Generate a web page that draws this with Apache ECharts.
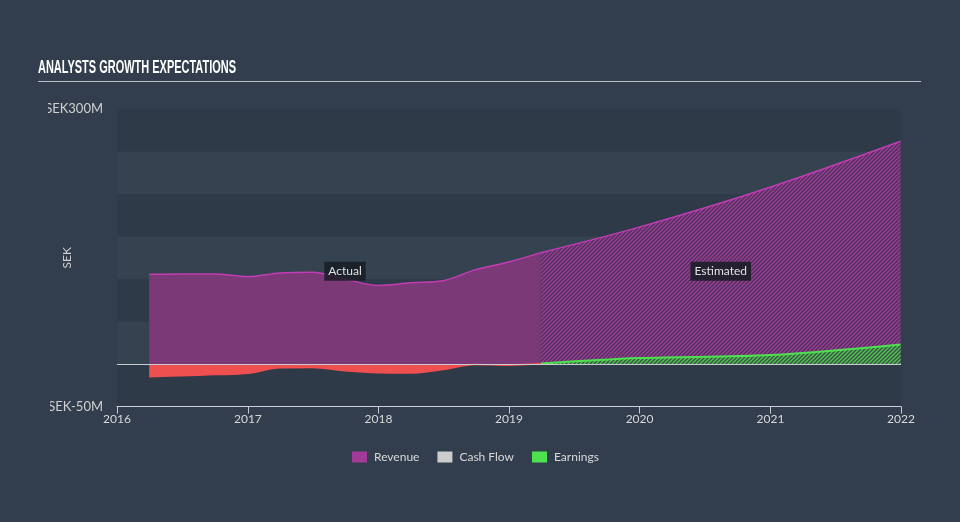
<!DOCTYPE html>
<html>
<head>
<meta charset="utf-8">
<script src="https://cdn.jsdelivr.net/npm/echarts@6/dist/echarts.min.js"></script>
<style>
html,body{margin:0;padding:0;background:#323e4d;}
#chart{width:960px;height:522px;}
</style>
</head>
<body>
<div id="chart"></div>
<script>
// ---- data ----
const actualDates = ['2016-03-31','2016-06-30','2016-09-30','2016-12-31','2017-03-31','2017-06-30','2017-09-30','2017-12-31','2018-03-31','2018-06-30','2018-09-30','2018-12-31','2019-03-31'];
const revenueActual = [105.5, 106, 106, 102.7, 107, 108, 100, 92.5, 95.6, 98, 111, 120, 131];
const earningsActual = [-15, -13.7, -12.5, -11, -4.5, -4, -8, -10.3, -10.6, -6.5, -0.5, -1.5, 0.5];
const estimateDates = ['2019-03-31','2019-12-31','2020-12-31','2021-12-31'];
const revenueEstimate = [131, 161, 208, 262];
const earningsEstimate = [0.5, 7, 10.5, 23];
const cashFlow = [];
const xRange = ['2016-01-01', '2022-01-01'];
const yTickLabels = {'300': 'SEK300M', '-50': 'SEK-50M'};
const title = 'ANALYSTS GROWTH EXPECTATIONS';
const labelValue = 109;

function pairs(d, v){ return d.map((x,i)=>[x, v[i]]); }
function midDate(d){ const a = +new Date(d[0]), b = +new Date(d[d.length-1]); return (a+b)/2; }

function hatch(bg, fg, lw){
  const c = document.createElement('canvas');
  c.width = 4; c.height = 4;
  const g = c.getContext('2d');
  g.fillStyle = bg; g.fillRect(0,0,4,4);
  g.strokeStyle = fg; g.lineWidth = lw;
  g.beginPath();
  g.moveTo(-1,5); g.lineTo(5,-1);
  g.moveTo(-1,1); g.lineTo(1,-1);
  g.moveTo(3,5); g.lineTo(5,3);
  g.stroke();
  return {image: c, repeat: 'repeat'};
}

// measure title to fit condensed width
const mc = document.createElement('canvas').getContext('2d');
mc.font = 'bold 19px "Liberation Sans"';
const tw = mc.measureText(title).width;
const titleScale = 198 / tw;

const chart = echarts.init(document.getElementById('chart'), null, {renderer: 'canvas'});
const labelBox = {
  show: true, color: '#e0e0e0', fontSize: 12, fontFamily: 'Lato, sans-serif',
  backgroundColor: 'rgba(24,28,36,0.85)', padding: [4, 4, 3, 4], borderRadius: 0
};
chart.setOption({
  backgroundColor: '#323e4d',
  animation: false,
  graphic: [
    {type: 'text', left: 38, top: 58, z: 100, scaleX: titleScale, originX: 0,
     style: {text: title, fill: '#ffffff', font: 'bold 19px "Liberation Sans"'}},
    {type: 'line', z: 100, shape: {x1: 38, y1: 81.5, x2: 921, y2: 81.5}, style: {stroke: '#b9bec5', lineWidth: 1.2}},
    {type: 'rect', z: 100, shape: {x: 0, y: 94, width: 48, height: 24}, style: {fill: '#323e4d'}},
    {type: 'rect', z: 100, shape: {x: 0, y: 390, width: 50, height: 24}, style: {fill: '#323e4d'}}
  ],
  grid: {left: 117, right: 59, top: 109, bottom: 115.5},
  legend: {
    left: 347, top: 446, itemWidth: 15, itemHeight: 11, itemGap: 18, icon: 'rect',
    textStyle: {color: '#d8d8d8', fontSize: 12, fontFamily: 'Lato, sans-serif', padding: [0, 0, 0, 2]},
    data: [
      {name: 'Revenue', itemStyle: {color: '#a23a98'}},
      {name: 'Cash Flow', itemStyle: {color: '#cccccc'}},
      {name: 'Earnings', itemStyle: {color: '#4fe04f'}}
    ]
  },
  xAxis: {
    type: 'time', min: xRange[0], max: xRange[1], splitNumber: 6,
    minInterval: 365*24*3600*1000,
    axisLine: {show: true, onZero: false, lineStyle: {color: '#c9ced6', width: 1}},
    axisTick: {show: true, length: 7, lineStyle: {color: '#c9ced6'}},
    axisLabel: {color: '#d8d8d8', fontSize: 12, fontFamily: 'Lato, sans-serif', margin: 7,
      showMinLabel: true, showMaxLabel: true,
      formatter: v => String(new Date(v).getFullYear())},
    splitLine: {show: false}
  },
  yAxis: {
    type: 'value', min: -50, max: 300, interval: 50,
    name: 'SEK', nameLocation: 'middle', nameGap: 44, nameRotate: 90, nameMoveOverlap: false,
    nameTextStyle: {color: '#d0d0d0', fontSize: 12, fontFamily: 'Lato, sans-serif'},
    axisLine: {show: false}, axisTick: {show: false},
    axisLabel: {color: '#d0d0d0', fontSize: 13, fontFamily: 'Lato, sans-serif', margin: 14,
      padding: [0, 0, 5, 0],
      formatter: v => yTickLabels[String(v)] || ''},
    splitLine: {show: false},
    splitArea: {show: true, areaStyle: {color: ['#2e3a47', '#354351']}}
  },
  series: [
    {name: 'Revenue', type: 'line', data: pairs(actualDates, revenueActual), smooth: 0.35,
     showSymbol: false, z: 2,
     lineStyle: {color: '#c43cb4', width: 1.5}, itemStyle: {color: '#a23a98'},
     areaStyle: {color: '#7b3a77', opacity: 1},
     markLine: {silent: true, symbol: 'none', label: {show: false},
       lineStyle: {color: '#c8ccd2', width: 1.2, type: 'solid'}, data: [{yAxis: 0}]},
     markPoint: {symbol: 'rect', symbolSize: 1, itemStyle: {color: 'rgba(0,0,0,0)'},
       label: Object.assign({formatter: 'Actual'}, labelBox),
       data: [{coord: [midDate(actualDates), labelValue]}]}
    },
    {name: 'Revenue', type: 'line', data: pairs(estimateDates, revenueEstimate), smooth: 0.35,
     showSymbol: false, z: 2,
     lineStyle: {color: '#c43cb4', width: 1.5}, itemStyle: {color: '#a23a98'},
     areaStyle: {color: hatch('#4f3159', '#973e95', 1.5), opacity: 1},
     markPoint: {symbol: 'rect', symbolSize: 1, itemStyle: {color: 'rgba(0,0,0,0)'},
       label: Object.assign({formatter: 'Estimated'}, labelBox),
       data: [{coord: [midDate(estimateDates), labelValue]}]}
    },
    {name: 'Cash Flow', type: 'line', data: cashFlow, showSymbol: false,
     itemStyle: {color: '#cccccc'}, lineStyle: {color: '#cccccc'}},
    {name: 'Earnings', type: 'line', data: pairs(actualDates, earningsActual), smooth: 0.35,
     showSymbol: false, z: 3,
     lineStyle: {color: '#f04e50', width: 1.5}, itemStyle: {color: '#f04e50'},
     areaStyle: {color: '#ee4f4f', opacity: 1}},
    {name: 'Earnings', type: 'line', data: pairs(estimateDates, earningsEstimate), smooth: 0.35,
     showSymbol: false, z: 3,
     lineStyle: {color: '#4fe04f', width: 2}, itemStyle: {color: '#4fe04f'},
     areaStyle: {color: hatch('#3a4f45', '#4fc452', 1.5), opacity: 1}}
  ]
});
</script>
</body>
</html>
